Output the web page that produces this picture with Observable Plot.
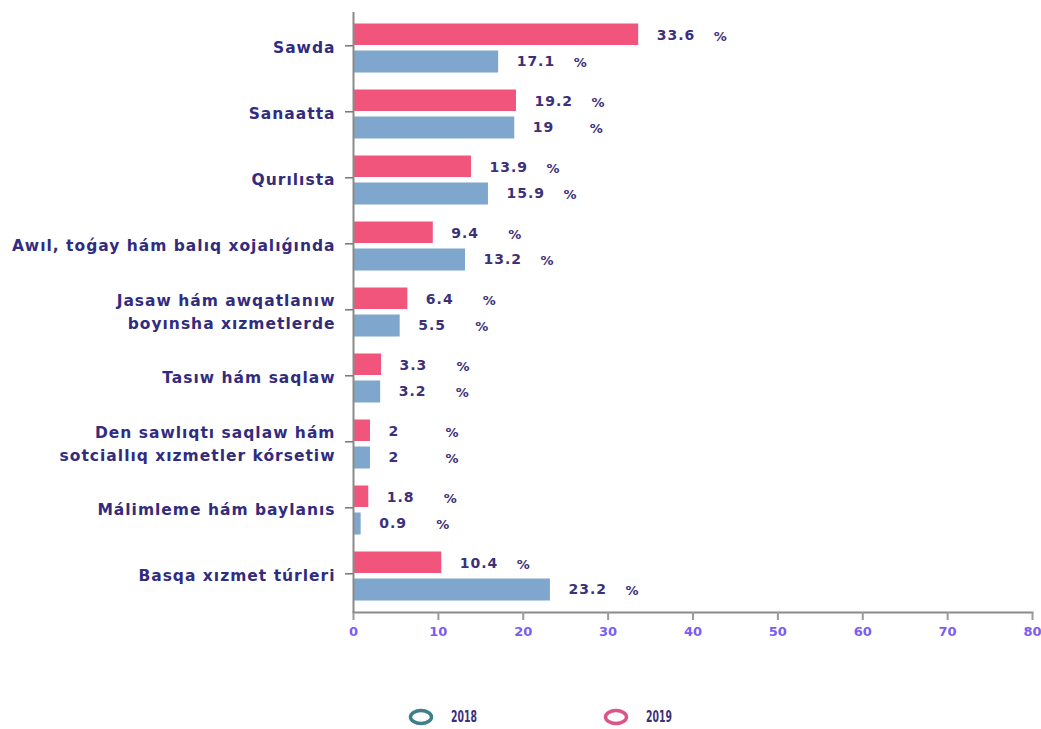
<!DOCTYPE html>
<html>
<head>
<meta charset="utf-8">
<script src="https://cdn.jsdelivr.net/npm/d3@7"></script>
<script src="https://cdn.jsdelivr.net/npm/@observablehq/plot@0.6"></script>
<style>
  html, body { margin: 0; padding: 0; background: #fff; }
  #wrap { position: relative; width: 1041px; height: 729px; }
  #chart svg { display: block; }
  .vlabel { letter-spacing: 1px; }
  .ylab text { letter-spacing: 1px; }
  .legend { position: absolute; top: 708px; left: 0; width: 1041px; height: 21px; }
  .legend .item { position: absolute; top: 0; display: flex; align-items: center; gap: 17px;
    font-family: "DejaVu Sans", sans-serif; font-weight: bold;
    font-size: 15px; color: #3d2f7a; }
  .legend .item span { display: inline-block; transform: scaleX(0.62); transform-origin: left center; }
</style>
</head>
<body>
<div id="wrap">
  <div id="chart"></div>
  <div class="legend" id="legend"></div>
</div>
<script>
const categories = [
  "Sawda",
  "Sanaatta",
  "Qurılısta",
  "Awıl, toǵay hám balıq xojalıǵında",
  "Jasaw hám awqatlanıw\nboyınsha xızmetlerde",
  "Tasıw hám saqlaw",
  "Den sawlıqtı saqlaw hám\nsotciallıq xızmetler kórsetiw",
  "Málimleme hám baylanıs",
  "Basqa xızmet túrleri"
];
const values2019 = [33.6, 19.2, 13.9, 9.4, 6.4, 3.3, 2, 1.8, 10.4];
const values2018 = [17.1, 19, 15.9, 13.2, 5.5, 3.2, 2, 0.9, 23.2];
const years = ["2018", "2019"];
const xTicks = [0, 10, 20, 30, 40, 50, 60, 70, 80];

const colors = {"2019": "#f2557b", "2018": "#7fa6cc"};
const ringColors = {"2018": "#3f7f8c", "2019": "#d9558a"};
const textColor = "#3d2f7a";

const d2019 = categories.map((c, i) => ({category: c, value: values2019[i], year: "2019"}));
const d2018 = categories.map((c, i) => ({category: c, value: values2018[i], year: "2018"}));

const labelFont = {fontFamily: "DejaVu Sans", fontWeight: "bold", fontSize: 14, fill: textColor};

const chart = Plot.plot({
  width: 1041,
  height: 660,
  marginLeft: 353,
  marginRight: 9,
  marginTop: 12,
  marginBottom: 48,
  style: {fontFamily: "DejaVu Sans", background: "#fff"},
  x: {domain: [0, 80], axis: null, label: null},
  y: {domain: categories, padding: 0, axis: null, label: null},
  marks: [
    Plot.barX(d2019, {x: "value", y: "category", fill: colors["2019"], insetTop: 8.5, insetBottom: 36}),
    Plot.barX(d2018, {x: "value", y: "category", fill: colors["2018"], insetTop: 35.5, insetBottom: 8.5}),
    Plot.text(d2019, {x: "value", y: "category", text: d => String(d.value), dx: 18, dy: -13, textAnchor: "start", className: "vlabel", ...labelFont}),
    Plot.text(d2018, {x: "value", y: "category", text: d => String(d.value), dx: 18, dy: 13, textAnchor: "start", className: "vlabel", ...labelFont}),
    Plot.text(d2019, {x: "value", y: "category", text: () => "%", dx: 75, dy: -12, textAnchor: "start", ...labelFont, fontSize: 13}),
    Plot.text(d2018, {x: "value", y: "category", text: () => "%", dx: 75, dy: 14, textAnchor: "start", ...labelFont, fontSize: 13}),
    Plot.ruleX([0], {stroke: "#8a8a8a", strokeWidth: 2}),
    Plot.frame({anchor: "bottom", stroke: "#8a8a8a", strokeWidth: 2}),
    Plot.axisY({tickSize: 8, tickPadding: 10, label: null, stroke: "#777", strokeWidth: 1.5, fill: "#322c7e", fontSize: 15.5, fontWeight: "bold", fontFamily: "DejaVu Sans", lineHeight: 1.5, dy: -2.7, className: "ylab"}),
    Plot.axisX({ticks: xTicks, tickSize: 8, tickPadding: 6, label: null, stroke: "#9a9a9a", strokeWidth: 2, fill: "#7a5cf5", fontSize: 13, fontWeight: 600, fontFamily: "DejaVu Sans"})
  ]
});
document.getElementById("chart").appendChild(chart);

// Legend
const legend = document.getElementById("legend");
const legendPos = {"2018": 408, "2019": 603};
years.forEach(y => {
  const item = document.createElement("div");
  item.className = "item";
  item.style.left = legendPos[y] + "px";
  item.innerHTML = `<svg width="26" height="18"><ellipse cx="13" cy="9" rx="10.5" ry="6.5" fill="none" stroke="${ringColors[y]}" stroke-width="3.5"/></svg><span>${y}</span>`;
  legend.appendChild(item);
});
</script>
</body>
</html>
